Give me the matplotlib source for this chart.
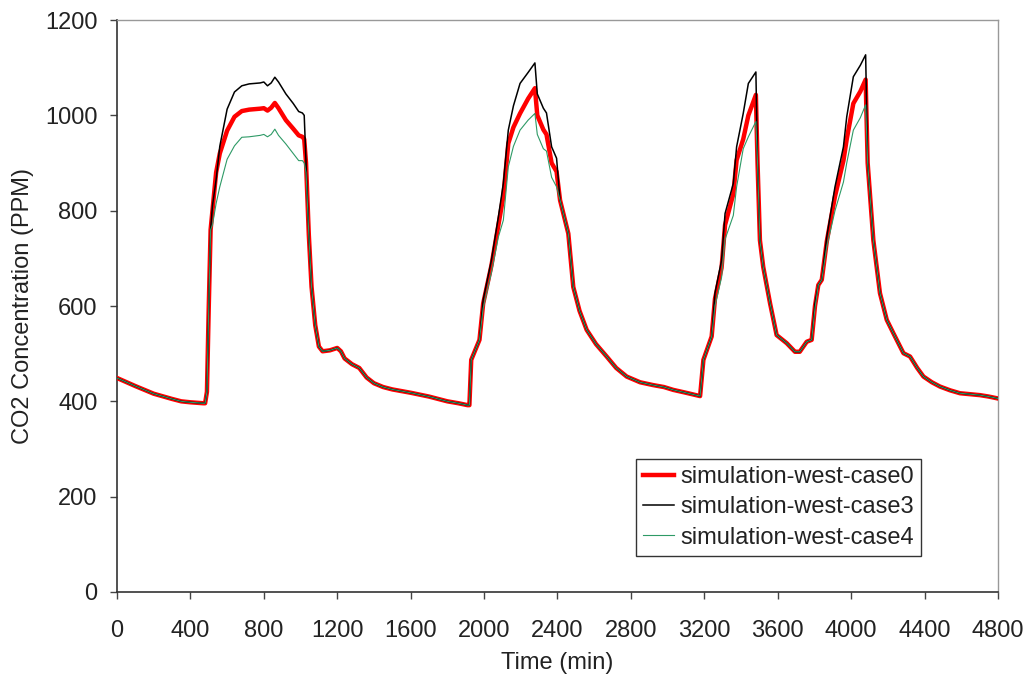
import matplotlib
matplotlib.use("Agg")
import matplotlib.pyplot as plt

plt.rcParams["font.family"] = ["Liberation Sans", "DejaVu Sans"]

# time (min) and CO2 concentration (PPM)
time_min = [
    0, 100, 200, 300, 350, 400, 470, 480, 490, 500, 510, 520, 540, 560, 600, 640,
    680, 720, 780, 800, 820, 840, 860, 880, 920, 960, 990, 1010, 1020, 1030, 1045,
    1060, 1080, 1100, 1120, 1160, 1200, 1220, 1240, 1280, 1320, 1360, 1400, 1450,
    1500, 1600, 1700, 1800, 1860, 1910, 1920, 1930, 1975, 1995, 2040, 2078, 2105,
    2132, 2160, 2196, 2240, 2277, 2290, 2323, 2340, 2368, 2395, 2414, 2459, 2486,
    2520, 2559, 2610, 2668, 2720, 2777, 2850, 2922, 2980, 3031, 3100, 3177, 3195,
    3240, 3258, 3294, 3313, 3358, 3376, 3412, 3440, 3481, 3490, 3503, 3521, 3558,
    3594, 3649, 3694, 3720, 3758, 3785, 3803, 3821, 3840, 3867, 3912, 3958, 3976,
    4012, 4050, 4079, 4090, 4121, 4157, 4194, 4230, 4285, 4321, 4360, 4394, 4440,
    4484, 4540, 4593, 4650, 4702, 4750, 4800,
]
case0 = [
    449, 432, 416, 405, 400, 398, 396, 396, 420, 600, 760, 800, 880, 920, 968, 997,
    1009, 1012, 1014, 1015, 1010, 1016, 1026, 1015, 990, 972, 958, 955, 950, 900, 750,
    640, 560, 515, 505, 507, 512, 505, 490, 478, 470, 450, 438, 430,
    425, 418, 410, 400, 396, 392, 392, 487, 529, 605, 685, 770, 830,
    941, 975, 1004, 1035, 1057, 1000, 970, 960, 900, 882, 822, 752, 640,
    590, 550, 520, 494, 470, 452, 440, 434, 430, 424, 418, 411, 487,
    536, 615, 680, 770, 835, 906, 950, 1000, 1043, 900, 738, 682, 606,
    539, 522, 504, 504, 525, 529, 600, 644, 655, 735, 830, 905, 950,
    1025, 1050, 1075, 900, 738, 627, 571, 543, 501, 494, 470, 452, 440,
    431, 423, 417, 415, 413, 410, 406,
]
case3 = [
    449, 432, 416, 405, 400, 398, 396, 396, 420, 600, 760, 810, 865, 935, 1013, 1049,
    1062, 1066, 1068, 1070, 1062, 1068, 1080, 1070, 1045, 1025, 1008, 1005, 1000, 900, 750,
    640, 560, 515, 505, 507, 512, 505, 490, 478, 470, 450, 438, 430,
    425, 418, 410, 400, 396, 392, 392, 487, 529, 613, 696, 787, 857,
    969, 1020, 1067, 1090, 1110, 1045, 1015, 1005, 934, 910, 822, 752, 640,
    590, 550, 520, 494, 470, 452, 440, 434, 430, 424, 418, 411, 487,
    536, 627, 696, 794, 857, 934, 1004, 1067, 1091, 900, 738, 682, 606,
    539, 522, 504, 504, 525, 529, 606, 644, 655, 745, 850, 934, 997,
    1081, 1105, 1127, 900, 738, 627, 571, 543, 501, 494, 470, 452, 440,
    431, 423, 417, 415, 413, 410, 406,
]
case4 = [
    449, 432, 416, 405, 400, 398, 396, 396, 420, 600, 760, 770, 815, 850, 908, 936,
    954, 955, 958, 960, 955, 960, 971, 958, 940, 920, 905, 905, 900, 880, 750,
    640, 560, 515, 505, 507, 512, 505, 490, 478, 470, 450, 438, 430,
    425, 418, 410, 400, 396, 392, 392, 487, 529, 595, 670, 745, 780,
    892, 935, 969, 990, 1004, 960, 930, 925, 870, 850, 822, 752, 640,
    590, 550, 520, 494, 470, 452, 440, 434, 430, 424, 418, 411, 487,
    536, 600, 660, 740, 790, 850, 930, 955, 987, 900, 738, 682, 606,
    539, 522, 504, 504, 525, 529, 595, 644, 655, 724, 800, 860, 900,
    969, 995, 1022, 900, 738, 627, 571, 543, 501, 494, 470, 452, 440,
    431, 423, 417, 415, 413, 410, 406,
]

fig = plt.figure(figsize=(10.3, 6.81), dpi=100)
ax = fig.add_axes([0.1136, 0.1307, 0.8553, 0.8399])

ax.plot(time_min, case0, color="#ff0000", linewidth=3.2, label="simulation-west-case0", zorder=3)
ax.plot(time_min, case3, color="#000000", linewidth=1.1, label="simulation-west-case3", zorder=4)
ax.plot(time_min, case4, color="#2e9a66", linewidth=0.8, label="simulation-west-case4", zorder=5)

ax.set_xlim(0, 4800)
ax.set_ylim(0, 1200)
ax.set_xticks(range(0, 4801, 400))
ax.set_yticks(range(0, 1201, 200))

ax.set_xlabel("Time (min)", fontsize=17, color="#222222", labelpad=7)
ax.set_ylabel("CO2 Concentration (PPM)", fontsize=17, color="#222222", labelpad=8)
ax.tick_params(direction="out", length=5, width=1, colors="#444444", labelsize=17,
               labelcolor="#222222")
ax.tick_params(axis="x", pad=15.5)
ax.tick_params(axis="y", pad=9)

for side in ["left", "bottom"]:
    ax.spines[side].set_color("#333333")
    ax.spines[side].set_linewidth(1.2)
for side in ["top", "right"]:
    ax.spines[side].set_color("#999999")
    ax.spines[side].set_linewidth(1.0)

leg = ax.legend(loc="upper left", bbox_to_anchor=(0.589, 0.2325), borderaxespad=0,
                fontsize=17, frameon=True, fancybox=False, handlelength=1.3,
                handletextpad=0.3, labelspacing=0.35, borderpad=0.3)
leg.get_frame().set_edgecolor("#000000")
leg.get_frame().set_linewidth(1.0)
for t in leg.get_texts():
    t.set_color("#222222")

fig.savefig("out.png", dpi=100, facecolor="white")
